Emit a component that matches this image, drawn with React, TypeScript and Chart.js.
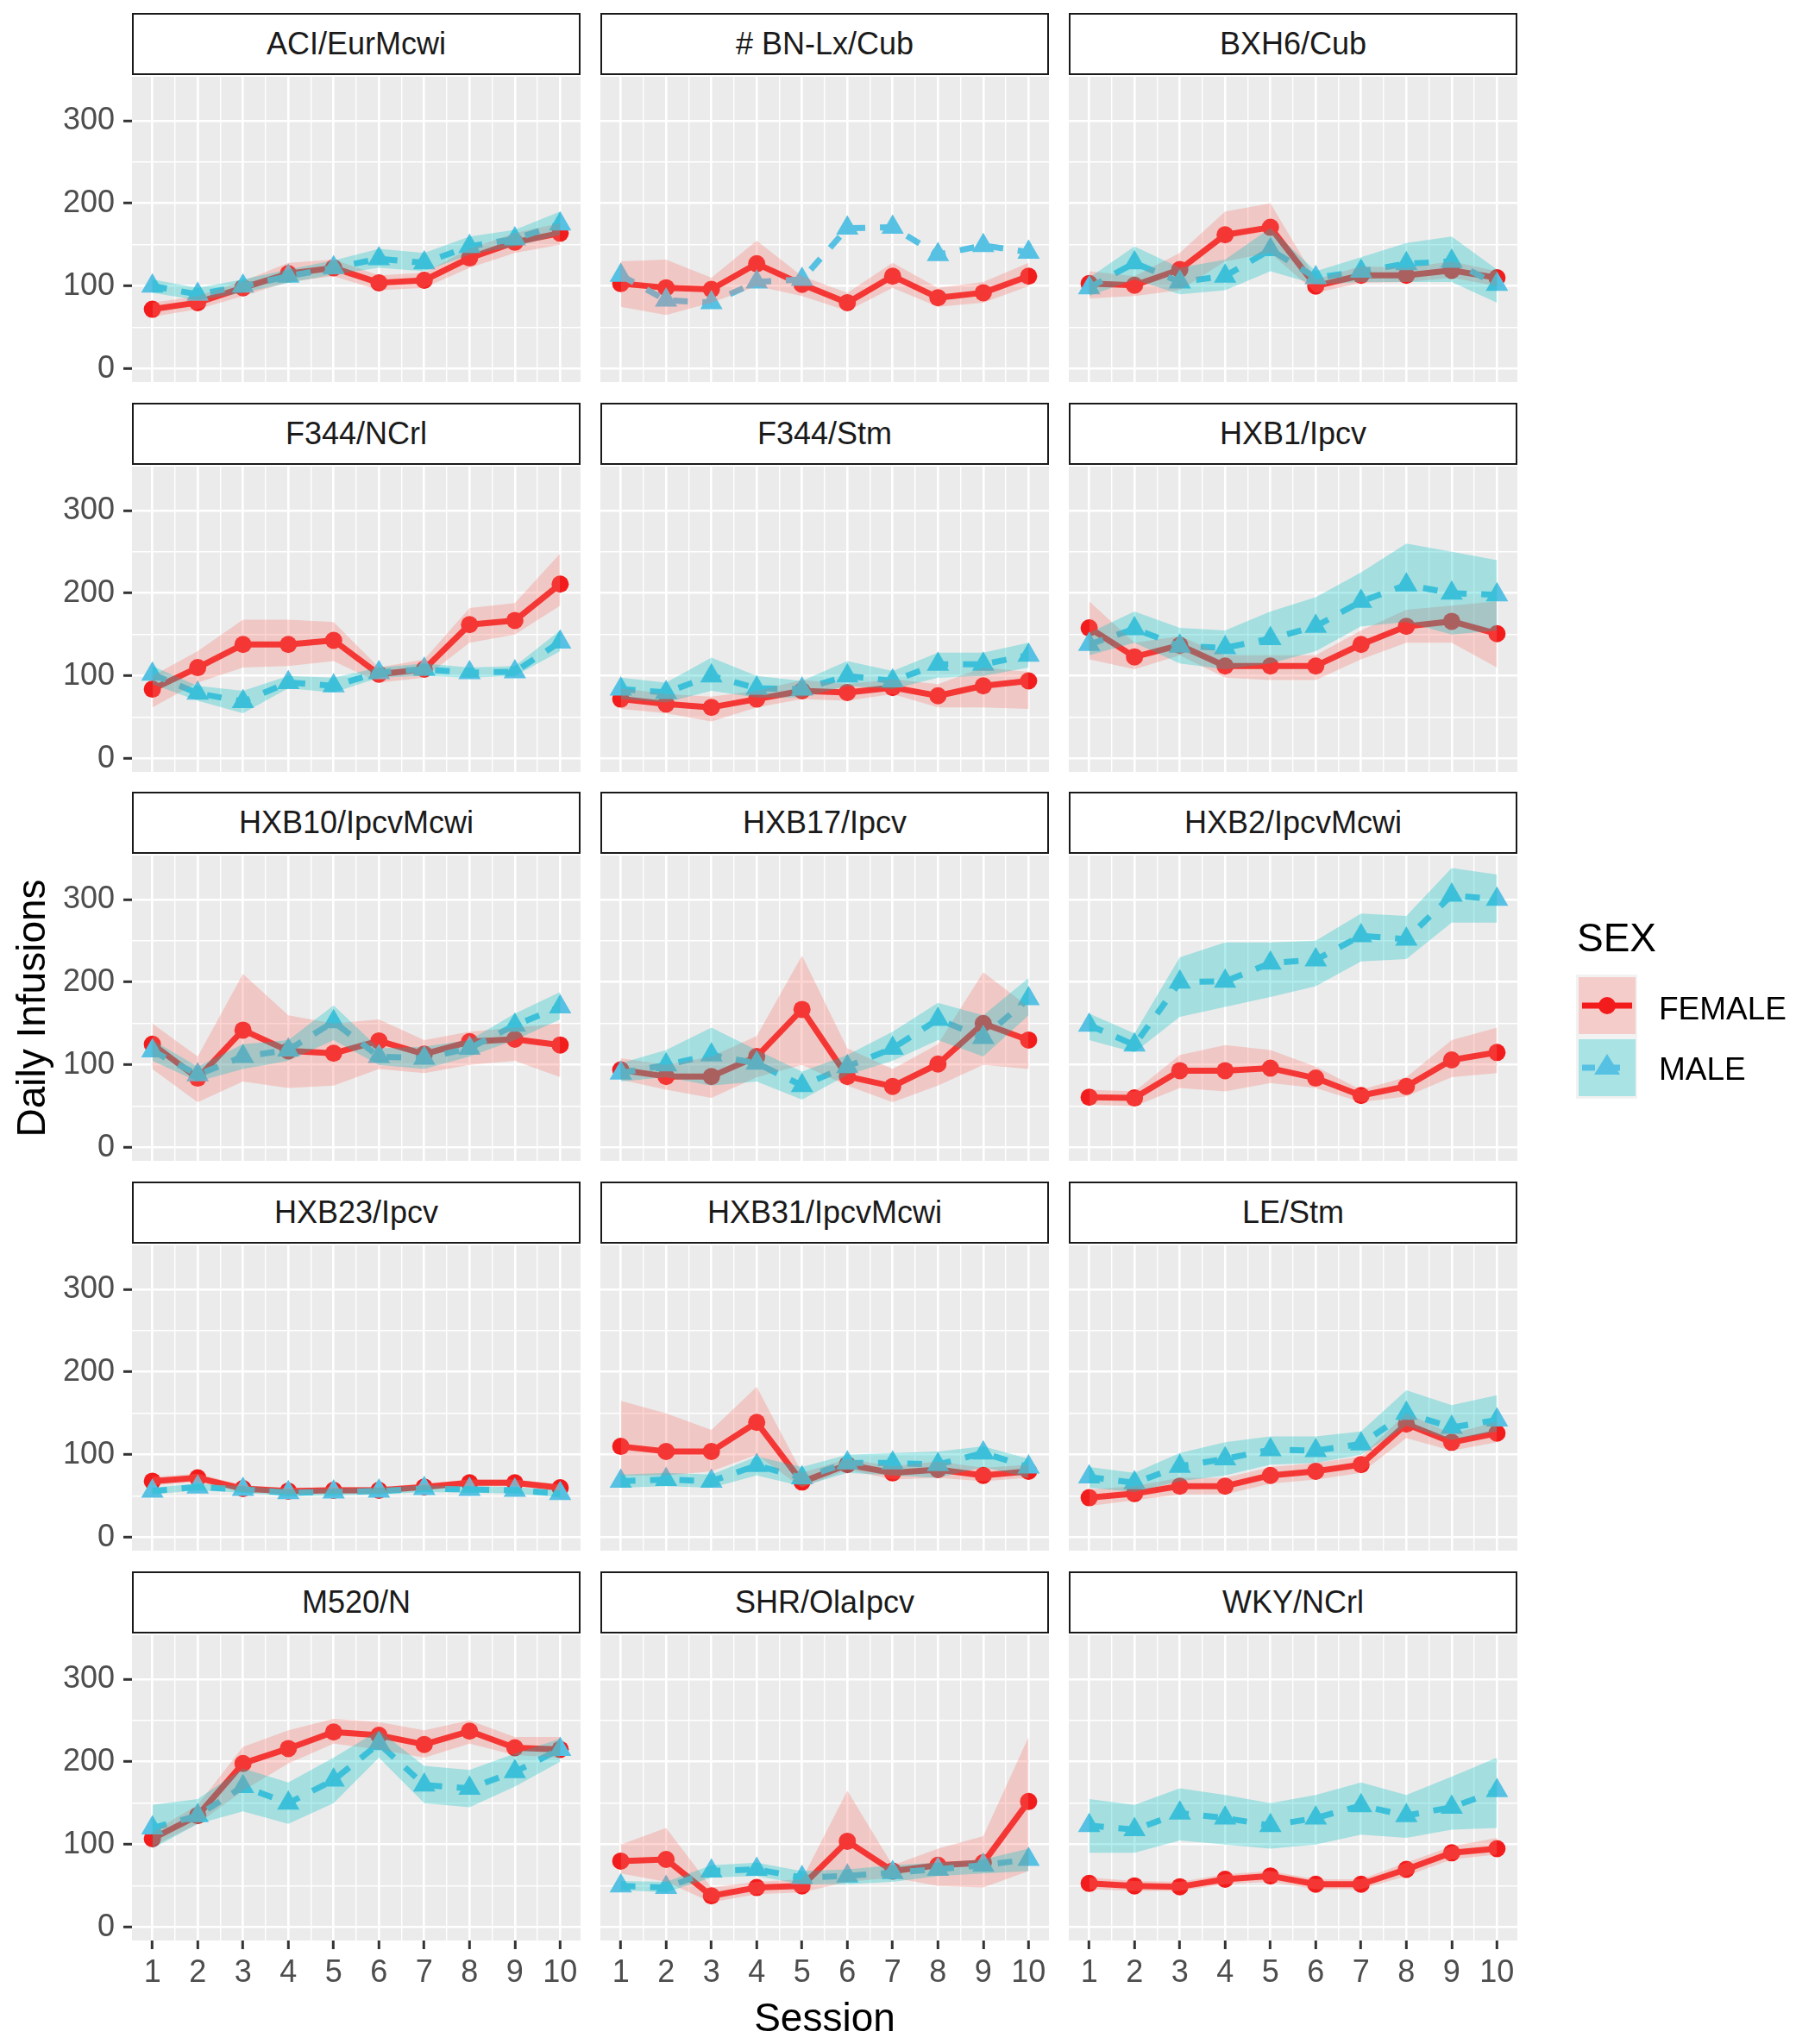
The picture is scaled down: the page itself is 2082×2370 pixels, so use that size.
import React, { useEffect, useRef } from 'react';
import { Chart, registerables } from 'chart.js';

Chart.register(...registerables);

// ---------------- data ----------------
const sessions = [1, 2, 3, 4, 5, 6, 7, 8, 9, 10];
const xMajorTicks = [1, 2, 3, 4, 5, 6, 7, 8, 9, 10];
const xMinorTicks = [1.5, 2.5, 3.5, 4.5, 5.5, 6.5, 7.5, 8.5, 9.5];
const yMajorTicks = [0, 100, 200, 300];
const yMinorTicks = [50, 150, 250];
const sexLabels = ['FEMALE', 'MALE'];

const strains = [
  'ACI/EurMcwi', '# BN-Lx/Cub', 'BXH6/Cub',
  'F344/NCrl', 'F344/Stm', 'HXB1/Ipcv',
  'HXB10/IpcvMcwi', 'HXB17/Ipcv', 'HXB2/IpcvMcwi',
  'HXB23/Ipcv', 'HXB31/IpcvMcwi', 'LE/Stm',
  'M520/N', 'SHR/OlaIpcv', 'WKY/NCrl',
];

const femaleMean = [
  [72, 80, 98, 115, 122, 104, 107, 134, 153, 164],
  [103, 98, 96, 127, 102, 80, 112, 86, 92, 112],
  [103, 101, 120, 162, 171, 100, 113, 113, 119, 110],
  [84, 110, 138, 138, 143, 102, 108, 162, 167, 211],
  [72, 66, 62, 72, 82, 80, 86, 76, 88, 94],
  [158, 123, 137, 112, 112, 112, 138, 160, 166, 151],
  [125, 84, 142, 117, 114, 129, 113, 128, 131, 124],
  [94, 86, 86, 110, 167, 86, 74, 101, 150, 130],
  [61, 60, 93, 93, 96, 84, 63, 74, 106, 115],
  [68, 72, 59, 56, 57, 57, 61, 66, 66, 60],
  [110, 104, 104, 139, 67, 88, 78, 82, 75, 80],
  [48, 53, 62, 62, 75, 80, 88, 137, 115, 126],
  [107, 135, 198, 216, 236, 232, 221, 237, 217, 215],
  [80, 82, 38, 48, 50, 104, 68, 75, 78, 152],
  [53, 50, 49, 58, 62, 52, 52, 70, 90, 95],
];

const femaleLow = [
  [63, 72, 88, 105, 112, 95, 98, 122, 140, 150],
  [75, 65, 80, 100, 88, 70, 98, 75, 80, 100],
  [85, 88, 95, 130, 140, 92, 104, 105, 110, 100],
  [62, 92, 110, 112, 118, 92, 98, 140, 150, 185],
  [60, 55, 45, 62, 72, 70, 78, 62, 62, 60],
  [120, 108, 125, 98, 95, 95, 120, 140, 140, 110],
  [95, 55, 80, 72, 75, 95, 90, 100, 105, 85],
  [82, 70, 60, 85, 100, 75, 55, 75, 100, 95],
  [52, 50, 72, 68, 78, 72, 55, 62, 85, 90],
  [63, 67, 55, 52, 53, 53, 57, 62, 62, 56],
  [75, 75, 80, 100, 60, 82, 70, 72, 68, 72],
  [38, 45, 52, 52, 65, 70, 78, 120, 105, 115],
  [98, 125, 165, 198, 222, 215, 205, 222, 208, 205],
  [65, 55, 30, 40, 42, 55, 60, 50, 48, 68],
  [46, 44, 44, 52, 55, 46, 46, 62, 82, 88],
];

const femaleHigh = [
  [80, 88, 106, 128, 132, 113, 116, 145, 164, 176],
  [130, 132, 110, 155, 112, 92, 128, 98, 105, 128],
  [118, 112, 140, 190, 200, 108, 124, 122, 130, 118],
  [100, 130, 168, 168, 165, 110, 120, 182, 188, 248],
  [85, 78, 75, 82, 95, 90, 96, 90, 110, 105],
  [190, 140, 148, 125, 125, 125, 155, 180, 185, 190],
  [150, 110, 210, 160, 150, 155, 130, 140, 145, 150],
  [108, 100, 110, 135, 232, 120, 95, 125, 212, 170],
  [70, 68, 112, 124, 118, 98, 70, 85, 130, 145],
  [73, 77, 63, 60, 61, 61, 65, 70, 70, 64],
  [165, 150, 130, 182, 78, 95, 86, 92, 84, 88],
  [58, 62, 72, 72, 85, 90, 98, 150, 125, 140],
  [115, 148, 218, 238, 252, 248, 238, 250, 230, 230],
  [100, 120, 48, 55, 58, 165, 75, 95, 110, 230],
  [60, 56, 55, 64, 68, 58, 58, 78, 98, 108],
];

const maleMean = [
  [100, 90, 100, 112, 122, 133, 128, 148, 157, 175],
  [113, 83, 80, 105, 108, 170, 171, 138, 149, 141],
  [98, 128, 105, 112, 144, 110, 118, 127, 130, 102],
  [102, 79, 69, 92, 88, 104, 108, 104, 105, 141],
  [84, 80, 100, 85, 84, 100, 94, 114, 114, 125],
  [138, 157, 136, 134, 145, 160, 190, 210, 200, 198],
  [117, 88, 110, 118, 152, 110, 108, 120, 148, 170],
  [90, 100, 112, 102, 75, 98, 120, 155, 133, 180],
  [148, 124, 200, 201, 223, 227, 256, 252, 305, 300],
  [56, 61, 58, 54, 55, 56, 59, 58, 57, 53],
  [68, 70, 68, 87, 72, 90, 90, 88, 102, 85],
  [73, 66, 86, 95, 106, 105, 113, 150, 133, 142],
  [120, 135, 170, 150, 178, 222, 172, 168, 188, 215],
  [50, 48, 68, 70, 60, 62, 66, 70, 75, 82],
  [123, 118, 138, 132, 123, 132, 147, 135, 145, 165],
];

const maleLow = [
  [92, 83, 92, 104, 114, 122, 118, 138, 148, 162],
  [113, 83, 80, 105, 108, 170, 171, 138, 149, 141],
  [88, 108, 90, 95, 118, 102, 105, 105, 105, 80],
  [90, 70, 55, 85, 80, 98, 100, 98, 100, 130],
  [72, 68, 82, 74, 74, 88, 84, 98, 100, 110],
  [125, 140, 115, 108, 115, 130, 160, 165, 150, 155],
  [105, 80, 95, 105, 130, 100, 95, 110, 130, 155],
  [80, 85, 75, 80, 58, 88, 105, 130, 110, 160],
  [130, 115, 158, 170, 182, 195, 225, 228, 272, 272],
  [52, 57, 54, 50, 51, 52, 55, 54, 53, 49],
  [60, 62, 60, 75, 62, 78, 75, 72, 85, 72],
  [60, 55, 68, 75, 88, 90, 100, 135, 118, 128],
  [95, 125, 140, 125, 150, 205, 150, 145, 170, 200],
  [45, 42, 60, 62, 52, 52, 55, 62, 65, 68],
  [90, 90, 105, 100, 95, 100, 112, 108, 118, 120],
];

const maleHigh = [
  [108, 98, 108, 120, 131, 145, 140, 160, 168, 190],
  [113, 83, 80, 105, 108, 170, 171, 138, 149, 141],
  [110, 148, 122, 132, 170, 118, 135, 152, 160, 120],
  [112, 88, 82, 100, 98, 110, 115, 110, 112, 155],
  [98, 92, 122, 100, 94, 118, 106, 128, 128, 140],
  [152, 178, 158, 155, 178, 195, 225, 260, 250, 240],
  [130, 98, 125, 130, 172, 120, 122, 130, 162, 188],
  [102, 118, 145, 118, 92, 112, 140, 175, 160, 205],
  [162, 138, 230, 248, 248, 250, 283, 280, 338, 330],
  [60, 65, 62, 58, 59, 60, 63, 62, 61, 57],
  [76, 78, 76, 98, 85, 100, 102, 104, 110, 95],
  [85, 78, 102, 115, 122, 122, 128, 178, 160, 172],
  [148, 155, 192, 175, 205, 238, 195, 190, 210, 228],
  [56, 55, 75, 78, 68, 70, 75, 78, 82, 95],
  [155, 148, 168, 160, 150, 160, 175, 160, 182, 205],
];

// ---------------- styling / layout ----------------
const FONT = '"Liberation Sans", Arial, Helvetica, sans-serif';
const RED = '#F31C1C';
const BLUE = '#56C1E3';
const PINK = 'rgba(248,118,109,0.30)';
const TEAL = 'rgba(0,191,196,0.30)';
const PANEL_BG = '#EBEBEB';

const COL_LEFT = [153, 696, 1239];
const STRIP_TOP = [15, 467, 918, 1370, 1822];
const PANEL_W = 520;
const STRIP_H = 72;
const PANEL_OFFSET = 74;
const PANEL_H = 354;
const Y_AXIS_W = 100;
const X_AXIS_H = 62;

const panelBg = {
  id: 'panelBg',
  beforeDraw(chart: any) {
    const { ctx, chartArea } = chart;
    ctx.save();
    ctx.fillStyle = PANEL_BG;
    ctx.fillRect(chartArea.left, chartArea.top, chartArea.right - chartArea.left, chartArea.bottom - chartArea.top);
    ctx.restore();
  },
};

const toPts = (arr: number[]) => sessions.map((s, i) => ({ x: s, y: arr[i] }));
const isInt = (v: number) => Math.abs(v - Math.round(v)) < 1e-6;

function Panel({ idx }: { idx: number }) {
  const ref = useRef<HTMLCanvasElement>(null);
  const row = Math.floor(idx / 3);
  const col = idx % 3;
  const showY = col === 0;
  const showX = row === 4;
  const yW = showY ? Y_AXIS_W : 0;
  const xH = showX ? X_AXIS_H : 0;
  const w = PANEL_W + yW;
  const h = PANEL_H + xH;

  useEffect(() => {
    const canvas = ref.current;
    if (!canvas) return;
    const chart = new Chart(canvas, {
      type: 'line',
      data: {
        datasets: [
          {
            label: sexLabels[0],
            data: toPts(femaleMean[idx]),
            borderColor: RED,
            backgroundColor: RED,
            borderWidth: 7,
            borderJoinStyle: 'round',
            pointStyle: 'circle',
            pointRadius: 10,
            pointBackgroundColor: RED,
            pointBorderWidth: 0,
            fill: false,
            order: 3,
          },
          {
            label: sexLabels[1],
            data: toPts(maleMean[idx]),
            borderColor: BLUE,
            backgroundColor: BLUE,
            borderWidth: 7,
            borderDash: [17, 17],
            borderJoinStyle: 'round',
            pointStyle: 'triangle',
            pointRadius: 15,
            pointBackgroundColor: BLUE,
            pointBorderWidth: 0,
            fill: false,
            order: 2,
          },
          {
            label: 'FEMALE upper',
            data: toPts(femaleHigh[idx]),
            borderWidth: 0,
            pointRadius: 0,
            backgroundColor: PINK,
            fill: '+1',
            order: 1,
          },
          {
            label: 'FEMALE lower',
            data: toPts(femaleLow[idx]),
            borderWidth: 0,
            pointRadius: 0,
            fill: false,
            order: 1,
          },
          {
            label: 'MALE upper',
            data: toPts(maleHigh[idx]),
            borderWidth: 0,
            pointRadius: 0,
            backgroundColor: TEAL,
            fill: '+1',
            order: 0,
          },
          {
            label: 'MALE lower',
            data: toPts(maleLow[idx]),
            borderWidth: 0,
            pointRadius: 0,
            fill: false,
            order: 0,
          },
        ],
      },
      options: {
        responsive: false,
        animation: false,
        devicePixelRatio: 1,
        layout: { padding: 0, autoPadding: false },
        events: [],
        elements: { line: { tension: 0 } },
        plugins: {
          legend: { display: false },
          tooltip: { enabled: false },
          filler: { drawTime: 'beforeDatasetDraw', propagate: false },
        },
        scales: {
          x: {
            type: 'linear',
            min: 0.55,
            max: 10.45,
            afterBuildTicks: (s: any) => {
              s.ticks = [...xMajorTicks, ...xMinorTicks].sort((a, b) => a - b).map((v) => ({ value: v }));
            },
            afterFit: (s: any) => {
              s.height = xH;
              s.paddingLeft = 0;
              s.paddingRight = 0;
              s.paddingTop = 0;
              s.paddingBottom = 0;
            },
            border: { display: false },
            grid: {
              color: '#FFFFFF',
              lineWidth: (c: any) => (isInt(c.tick.value) ? 2.6 : 1.4),
              drawTicks: showX,
              tickLength: 10,
              tickWidth: 3,
              tickColor: (c: any) => (isInt(c.tick.value) ? '#333333' : 'rgba(0,0,0,0)'),
            },
            ticks: {
              display: showX,
              autoSkip: false,
              maxRotation: 0,
              minRotation: 0,
              padding: 6,
              color: '#4D4D4D',
              font: { family: FONT, size: 36 },
              callback: (v: any) => (isInt(Number(v)) ? String(Math.round(Number(v))) : ''),
            },
          },
          y: {
            type: 'linear',
            min: -16,
            max: 353,
            afterBuildTicks: (s: any) => {
              s.ticks = [...yMajorTicks, ...yMinorTicks].sort((a, b) => a - b).map((v) => ({ value: v }));
            },
            afterFit: (s: any) => {
              s.width = yW;
              s.paddingLeft = 0;
              s.paddingRight = 0;
              s.paddingTop = 0;
              s.paddingBottom = 0;
            },
            border: { display: false },
            grid: {
              color: '#FFFFFF',
              lineWidth: (c: any) => (c.tick.value % 100 === 0 ? 2.6 : 1.4),
              drawTicks: showY,
              tickLength: 10,
              tickWidth: 3,
              tickColor: (c: any) => (c.tick.value % 100 === 0 ? '#333333' : 'rgba(0,0,0,0)'),
            },
            ticks: {
              display: showY,
              autoSkip: false,
              padding: 10,
              color: '#4D4D4D',
              font: { family: FONT, size: 36 },
              callback: (v: any) => (Number(v) % 100 === 0 ? String(v) : ''),
            },
          },
        },
      } as any,
      plugins: [panelBg],
    } as any);
    return () => chart.destroy();
  }, [idx]);

  const stripTop = STRIP_TOP[row];
  return (
    <>
      <div
        style={{
          position: 'absolute',
          left: COL_LEFT[col],
          top: stripTop,
          width: PANEL_W,
          height: STRIP_H,
          boxSizing: 'border-box',
          border: '2px solid #1A1A1A',
          background: '#FFFFFF',
          display: 'flex',
          alignItems: 'center',
          justifyContent: 'center',
          fontFamily: FONT,
          fontSize: 36,
          color: '#1A1A1A',
          whiteSpace: 'nowrap',
        }}
      >
        {strains[idx]}
      </div>
      <canvas
        ref={ref}
        width={w}
        height={h}
        style={{
          position: 'absolute',
          left: COL_LEFT[col] - yW,
          top: stripTop + PANEL_OFFSET,
          width: w,
          height: h,
        }}
      />
    </>
  );
}

function Overlay() {
  return (
    <svg
      width={2082}
      height={2370}
      style={{ position: 'absolute', left: 0, top: 0, pointerEvents: 'none' }}
      fontFamily={FONT}
    >
      <text x={0} y={0} transform="translate(52,1169) rotate(-90)" textAnchor="middle" fontSize={46} fill="#000">
        Daily Infusions
      </text>
      <text x={956} y={2355} textAnchor="middle" fontSize={46} fill="#000">
        Session
      </text>
      {/* legend */}
      <text x={1828} y={1103} fontSize={46} fill="#000">SEX</text>
      <rect x={1827} y={1130} width={71} height={144} fill="#F2F2F2" />
      <rect x={1830} y={1133} width={66} height={66} fill={PINK} />
      <rect x={1830} y={1205} width={66} height={66} fill={TEAL} />
      <line x1={1834} y1={1166} x2={1892} y2={1166} stroke={RED} strokeWidth={7} />
      <circle cx={1863} cy={1166} r={10} fill={RED} />
      <line x1={1834} y1={1238} x2={1892} y2={1238} stroke={BLUE} strokeWidth={7} strokeDasharray="15 14" />
      <polygon points="1848,1246 1878,1246 1863,1222" fill={BLUE} />
      <text x={1923} y={1182} fontSize={37} fill="#000">{sexLabels[0]}</text>
      <text x={1923} y={1252} fontSize={37} fill="#000">{sexLabels[1]}</text>
    </svg>
  );
}

export default function App() {
  return (
    <div style={{ position: 'absolute', left: 0, top: 0, width: 2082, height: 2370, background: '#FFFFFF' }}>
      {strains.map((_, i) => (
        <Panel key={i} idx={i} />
      ))}
      <Overlay />
    </div>
  );
}
